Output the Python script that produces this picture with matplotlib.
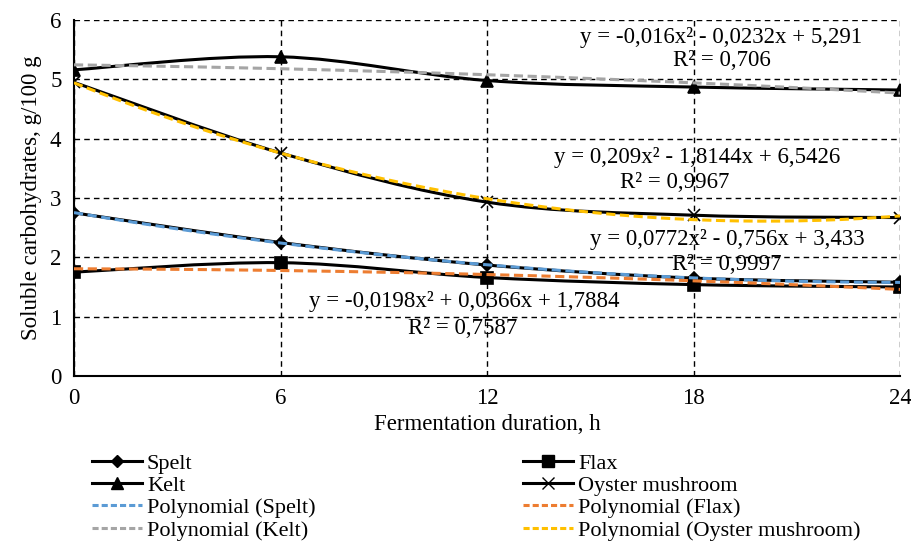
import numpy as np
import matplotlib
matplotlib.use("Agg")
import matplotlib.pyplot as plt
from matplotlib.path import Path
from matplotlib.patches import PathPatch
from matplotlib.lines import Line2D

plt.rcParams['font.family'] = ['Liberation Serif', 'DejaVu Serif']

hours = [0, 6, 12, 18, 24]
spelt = [2.75, 2.25, 1.87, 1.65, 1.58]
flax = [1.75, 1.91, 1.66, 1.54, 1.50]
kelt = [5.16, 5.38, 4.98, 4.87, 4.82]
oyster = [4.95, 3.76, 2.93, 2.71, 2.67]

series_names = ["Spelt", "Flax", "Kelt", "Oyster mushroom"]
series_values = [spelt, flax, kelt, oyster]
markers = ["D", "s", "^", "x"]
trend_colors = ["#5B9BD5", "#ED7D31", "#A5A5A5", "#FFC000"]

equations = [
    ("y = 0,0772x² - 0,756x + 3,433", "R² = 0,9997"),
    ("y = -0,0198x² + 0,0366x + 1,7884", "R² = 0,7587"),
    ("y = -0,016x² - 0,0232x + 5,291", "R² = 0,706"),
    ("y = 0,209x² - 1,8144x + 6,5426", "R² = 0,9967"),
]

FS = 16.5

fig = plt.figure(figsize=(9.11, 5.44), dpi=100)
ax = fig.add_axes([74/911, 1-376/544, (900-74)/911, (376-20)/544])


def smooth_path(xs, ys):
    pts = np.column_stack([xs, ys]).astype(float)
    n = len(pts)
    verts = [pts[0]]
    codes = [Path.MOVETO]
    for i in range(n - 1):
        p0 = pts[i - 1] if i > 0 else pts[i]
        p1 = pts[i]
        p2 = pts[i + 1]
        p3 = pts[i + 2] if i + 2 < n else pts[i + 1]
        c1 = p1 + (p2 - p0) / 6.0
        c2 = p2 - (p3 - p1) / 6.0
        verts += [c1, c2, p2]
        codes += [Path.CURVE4] * 3
    return Path(verts, codes)

xs = np.array(hours, dtype=float)
idx = np.arange(1, len(hours) + 1)
fine_idx = np.linspace(1, len(hours), 200)
fine_x = np.interp(fine_idx, idx, xs)

for vals, mk, tc in zip(series_values, markers, trend_colors):
    patch = PathPatch(smooth_path(xs, vals), facecolor='none', edgecolor='black', lw=2.2, zorder=3)
    ax.add_patch(patch)
    ms = 8 if mk != "D" else 6
    ax.plot(xs, vals, linestyle='none', marker=mk, color='black', ms=ms, mew=1.2, zorder=4)
    coef = np.polyfit(idx, vals, 2)
    ax.plot(fine_x, np.polyval(coef, fine_idx), color=tc, lw=2.2, ls=(0, (3, 1.5)), zorder=5)

ax.set_xlim(0, 24)
ax.set_ylim(0, 6)
ax.set_xticks(hours)
ax.set_yticks(range(0, 7))
ax.grid(True, color='black', ls=(0, (4, 3)), lw=1.0)
ax.set_axisbelow(True)
for s in ['top', 'right']:
    ax.spines[s].set_visible(False)
for s in ['left', 'bottom']:
    ax.spines[s].set_linewidth(1.5)
ax.tick_params(length=0, labelsize=FS, pad=9)
ax.set_xlabel("Fermentation duration, h", fontsize=FS, labelpad=3)
ax.set_ylabel("Soluble carbohydrates, g/100 g", fontsize=FS, labelpad=6)

def pxy(px, py):
    return ((px - 74) / (900 - 74), (376 - py) / (376 - 20))

txt_pos = [((727, 240), (727, 264)), ((464, 302), (463, 329)), ((721, 37), (722, 60)), ((697, 157), (675, 183))]
for (eq, r2), (p1, p2) in zip(equations, txt_pos):
    ax.text(*pxy(*p1), eq, transform=ax.transAxes, ha='center', va='center', fontsize=FS, zorder=6)
    ax.text(*pxy(*p2), r2, transform=ax.transAxes, ha='center', va='center', fontsize=FS, zorder=6)

def data_handle(i):
    ms = 8 if markers[i] != "D" else 6
    return Line2D([], [], color='black', lw=2.2, marker=markers[i], ms=ms)

def trend_handle(i):
    return Line2D([], [], color=trend_colors[i], lw=2.2, ls=(0, (2, 1)))

def make_col(ids):
    hs, ls = [], []
    for i in ids:
        hs.append(data_handle(i)); ls.append(series_names[i])
    for i in ids:
        hs.append(trend_handle(i)); ls.append("Polynomial (" + series_names[i] + ")")
    return hs, ls

leg_kw = dict(loc='upper left', frameon=False, fontsize=16, handlelength=2.25, handletextpad=0.22,
              labelspacing=0.08, borderaxespad=0, borderpad=0)
h1, l1 = make_col([0, 2])
fig.legend(h1, l1, bbox_to_anchor=(92/911, 1-453/544), **leg_kw)
h2, l2 = make_col([1, 3])
fig.legend(h2, l2, bbox_to_anchor=(523/911, 1-453/544), **leg_kw)

fig.savefig("out.png", dpi=100)
